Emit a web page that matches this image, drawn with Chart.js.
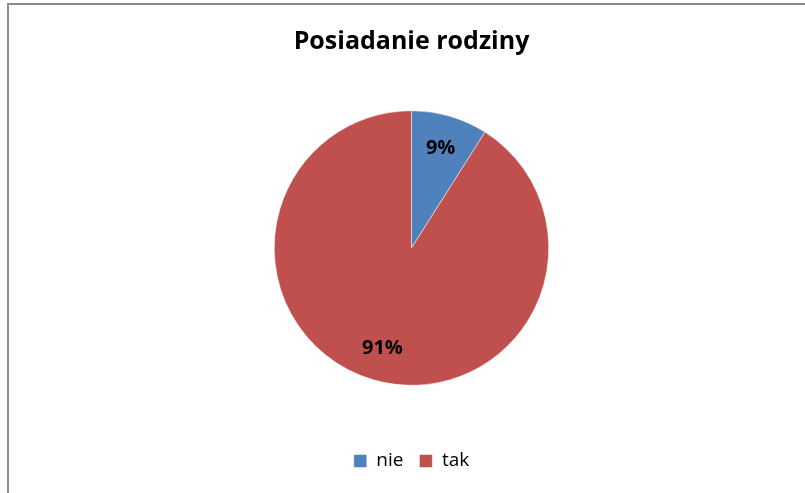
<!DOCTYPE html>
<html>
<head>
<meta charset="utf-8">
<script src="https://cdn.jsdelivr.net/npm/chart.js@4"></script>
<style>
  html, body { margin: 0; padding: 0; background: #fff; overflow: hidden; }
  #wrap { position: relative; width: 805px; height: 493px; }
  #frame {
    position: absolute; left: 7px; top: 3px; width: 805px; height: 493px;
    border-top: 2px solid #8c8c8c; border-left: 2px solid #8c8c8c;
    pointer-events: none;
  }
</style>
</head>
<body>
<div id="wrap">
  <canvas id="pieChart" width="805" height="493"></canvas>
  <div id="frame"></div>
</div>
<script>
const title = 'Posiadanie rodziny';
const categories = ['nie', 'tak'];
const values = [9, 91];
const colors = ['#4F81BD', '#C0504D'];

// percentage labels inside slices
const sliceLabels = {
  id: 'sliceLabels',
  afterDatasetsDraw(chart) {
    const { ctx } = chart;
    const meta = chart.getDatasetMeta(0);
    const total = values.reduce((a, b) => a + b, 0);
    ctx.save();
    ctx.font = 'bold 20px "Open Sans"';
    ctx.fillStyle = '#000';
    ctx.textAlign = 'center';
    ctx.textBaseline = 'middle';
    meta.data.forEach((arc, i) => {
      const mid = (arc.startAngle + arc.endAngle) / 2;
      const r = arc.outerRadius * 0.76;
      const x = arc.x + Math.cos(mid) * r;
      const y = arc.y + Math.sin(mid) * r;
      ctx.fillText(Math.round(values[i] / total * 100) + '%', x, y);
    });
    ctx.restore();
  }
};

new Chart(document.getElementById('pieChart'), {
  type: 'pie',
  data: {
    labels: categories,
    datasets: [{
      data: values,
      backgroundColor: colors,
      borderColor: '#ffffff',
      borderWidth: 0.5
    }]
  },
  options: {
    responsive: false,
    animation: false,
    layout: { padding: { left: 18, top: 0, bottom: 12.5 } },
    plugins: {
      title: {
        display: true,
        text: title,
        color: '#000',
        font: { family: 'Open Sans', size: 25, weight: 'bold' },
        padding: { top: 27, bottom: 53.5 }
      },
      legend: {
        position: 'bottom',
        title: {
          display: true,
          text: ' ',
          font: { size: 10, lineHeight: 1 },
          padding: 20
        },
        labels: {
          color: '#000',
          font: { family: 'Open Sans', size: 19 },
          boxWidth: 13,
          boxHeight: 13,
          padding: 16
        }
      },
      tooltip: { enabled: false }
    }
  },
  plugins: [sliceLabels]
});
</script>
</body>
</html>
